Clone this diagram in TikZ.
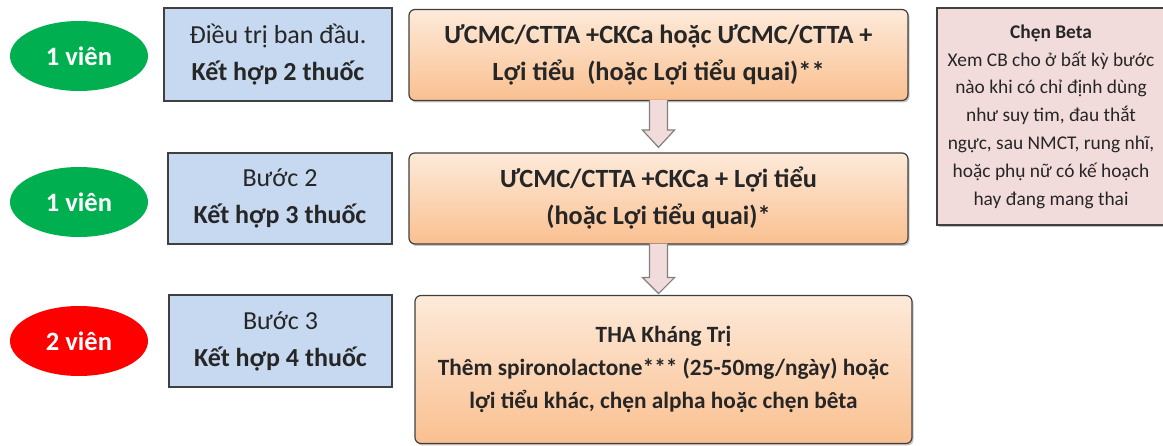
\documentclass[tikz,border=0pt]{standalone}
\usepackage{fontspec}
\setmainfont{Carlito}
\usetikzlibrary{calc,shadows,shapes.geometric}
\definecolor{pillgreen}{HTML}{00B050}
\definecolor{pillred}{HTML}{FF0000}
\definecolor{stepblue}{HTML}{C6D9F1}
\definecolor{orangetop}{HTML}{FDEADA}
\definecolor{orangebot}{HTML}{FAC090}
\definecolor{notepink}{HTML}{F2DCDB}
\definecolor{edgegray}{HTML}{404040}
\definecolor{textgray}{HTML}{262626}
\tikzset{
  pill/.style={ellipse, minimum width=138pt, minimum height=70pt, inner sep=0pt,
    text=white, font={\fontsize{26.5}{30}\selectfont\bfseries}},
  stepbox/.style={rectangle, draw=edgegray, line width=1.2pt, fill=stepblue,
    minimum width=228pt, minimum height=93pt, inner sep=0pt, align=center,
    text=textgray, font={\fontsize{26}{37}\selectfont}},
  regimen/.style={rectangle, rounded corners=6pt, draw=edgegray, line width=1.2pt,
    top color=orangetop, bottom color=orangebot, inner sep=0pt, align=center,
    text=textgray, font={\fontsize{26.3}{37}\selectfont\bfseries},
    drop shadow={shadow xshift=1.5pt, shadow yshift=-2pt, opacity=0.45}},
  note/.style={rectangle, draw=edgegray, line width=1.2pt, fill=notepink,
    inner sep=0pt, align=center, text=textgray, font={\fontsize{19.4}{27.8}\selectfont},
    drop shadow={shadow xshift=2pt, shadow yshift=-2.5pt, opacity=0.5}},
  blockarrow/.style={draw=gray, line width=1.2pt, fill=notepink, line join=miter}
}
\begin{document}
\begin{tikzpicture}[x=1pt, y=-1pt]
\useasboundingbox (0,0) rectangle (1163,446);

% dose pills
\node[pill, fill=pillgreen] (p1) at (79,56) {1 viên};
\node[pill, fill=pillgreen] (p2) at (79,202) {1 viên};
\node[pill, fill=pillred]   (p3) at (79,341) {2 viên};

% step labels
\node[stepbox] (s1) at (278,54.5) {Điều trị ban đầu.\\\textbf{Kết hợp 2 thuốc}};
\node[stepbox, minimum width=224pt, minimum height=91pt] (s2) at (280,198.5) {Bước 2\\\textbf{Kết hợp 3 thuốc}};
\node[stepbox, minimum width=223pt, minimum height=92pt] (s3) at (280.5,341) {Bước 3\\\textbf{Kết hợp 4 thuốc}};

% regimens
\node[regimen, minimum width=499pt, minimum height=91pt] (r1) at (658.5,55)
  {ƯCMC/CTTA +CKCa hoặc ƯCMC/CTTA +\\Lợi tiểu\ \ (hoặc Lợi tiểu quai)**};
\node[regimen, minimum width=499pt, minimum height=91pt] (r2) at (658.5,198.5)
  {ƯCMC/CTTA +CKCa + Lợi tiểu\\(hoặc Lợi tiểu quai)*};
\node[regimen, minimum width=497pt, minimum height=148pt, font={\fontsize{23.3}{33}\selectfont\bfseries}] (r3) at (663.5,369.5)
  {THA Kháng Trị\\Thêm spironolactone*** (25-50mg/ngày) hoặc\\lợi tiểu khác, chẹn alpha hoặc chẹn bêta};

% beta-blocker note
\node[note, minimum width=228pt, minimum height=217pt] (n1) at (1051,116.5)
  {\textbf{Chẹn Beta}\\Xem CB cho ở bất kỳ bước\\nào khi có chỉ định dùng\\như suy tim, đau thắt\\ngực, sau NMCT, rung nhĩ,\\hoặc phụ nữ có kế hoạch\\hay đang mang thai};

% block arrows between regimens
\draw[blockarrow] ($(r1.south)+(-9,-1)$) -- ($(r1.south)+(-9,29)$) -- ($(r1.south)+(-16,29)$)
  -- ($(r2.north)+(0,-5)$) -- ($(r1.south)+(16,29)$) -- ($(r1.south)+(9,29)$)
  -- ($(r1.south)+(9,-1)$);
\draw[blockarrow] ($(r2.south)+(-9,-1)$) -- ($(r2.south)+(-9,33)$) -- ($(r2.south)+(-16,33)$)
  -- ($(r2.south)+(0,49)$) -- ($(r2.south)+(16,33)$) -- ($(r2.south)+(9,33)$)
  -- ($(r2.south)+(9,-1)$);
\end{tikzpicture}
\end{document}
